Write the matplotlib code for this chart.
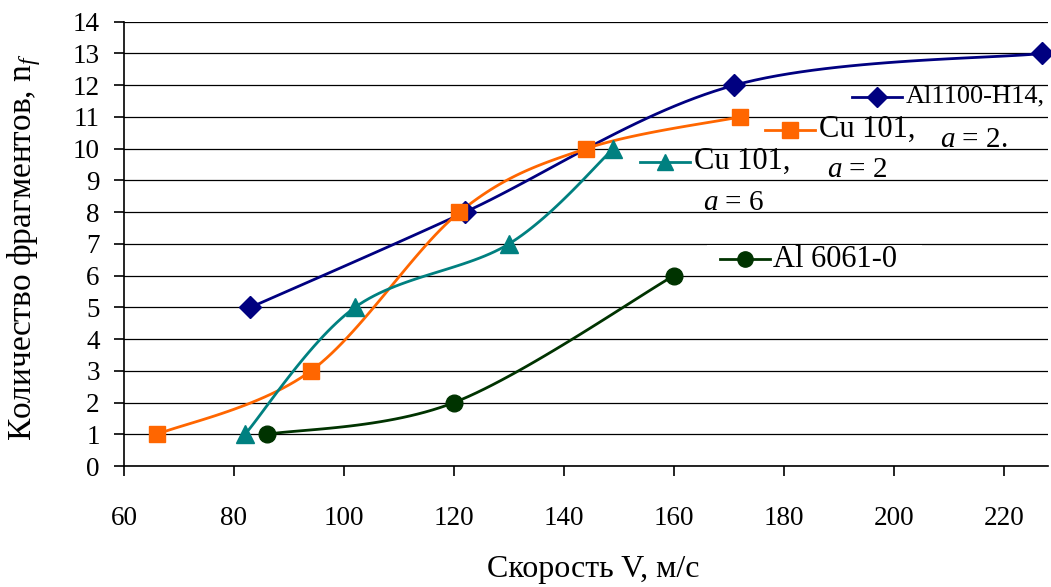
import numpy as np
import matplotlib
matplotlib.use('Agg')
import matplotlib.pyplot as plt
from matplotlib.patches import Rectangle
from matplotlib.lines import Line2D

# данные серий
v_al1100 = [83, 122, 171, 227]
n_al1100 = [5, 8, 12, 13]

v_cu_a2 = [66, 94, 121, 144, 172]
n_cu_a2 = [1, 3, 8, 10, 11]

v_cu_a6 = [82, 102, 130, 149]
n_cu_a6 = [1, 5, 7, 10]

v_al6061 = [86, 120, 160]
n_al6061 = [1, 2, 6]

x_ticks = [60, 80, 100, 120, 140, 160, 180, 200, 220]
y_ticks = list(range(0, 15))

plt.rcParams['font.family'] = ['Liberation Serif', 'DejaVu Serif']
plt.rcParams['mathtext.fontset'] = 'custom'
plt.rcParams['mathtext.rm'] = 'Liberation Serif'
plt.rcParams['mathtext.it'] = 'Liberation Serif:italic'


def smooth(xs, ys, n=30):
    # сглаживание как в Excel (кривые Безье)
    p = np.column_stack([xs, ys]).astype(float)
    ext = np.vstack([p[0], p, p[-1]])
    out = []
    t = np.linspace(0, 1, n)[:, None]
    for i in range(1, len(ext) - 2):
        p0, p1, p2, p3 = ext[i - 1], ext[i], ext[i + 1], ext[i + 2]
        c1 = p1 + (p2 - p0) / 6
        c2 = p2 - (p3 - p1) / 6
        seg = ((1 - t) ** 3) * p1 + 3 * ((1 - t) ** 2) * t * c1 + 3 * (1 - t) * t ** 2 * c2 + t ** 3 * p2
        out.append(seg if i == 1 else seg[1:])
    s = np.vstack(out)
    return s[:, 0], s[:, 1]


fig = plt.figure(figsize=(10.51, 5.87), dpi=100)
ax = fig.add_axes([0.118, 0.206, 0.879, 0.757])

series = [
    (v_al1100, n_al1100, '#000080', 'D', 11),
    (v_cu_a2, n_cu_a2, '#FF6600', 's', 11),
    (v_cu_a6, n_cu_a6, '#008080', '^', 13),
    (v_al6061, n_al6061, '#003300', 'o', 12),
]

for xs, ys, c, m, ms in series:
    sx, sy = smooth(xs, ys)
    ax.plot(sx, sy, color=c, lw=2.0, clip_on=False, zorder=3)
    ax.plot(xs, ys, ls='none', marker=m, ms=ms, color=c, clip_on=False, zorder=4)

ax.set_xlim(60, 228)
ax.set_ylim(0, 14)
ax.set_xticks(x_ticks)
ax.set_yticks(y_ticks)
ax.yaxis.grid(True, color='black', lw=0.9)
ax.set_axisbelow(True)
for s in ['top', 'right']:
    ax.spines[s].set_visible(False)
ax.spines['left'].set_linewidth(1.2)
ax.spines['bottom'].set_linewidth(1.2)
ax.tick_params(axis='both', direction='out', length=7.5, width=1.2, labelsize=19.5)
ax.tick_params(axis='x', pad=21)
ax.tick_params(axis='y', pad=10)

ax.set_xlabel('Скорость V, м/с', fontsize=23)
ax.xaxis.set_label_coords(0.508, -0.2)
ax.set_ylabel(r'Количество фрагментов, n$_{f}$', fontsize=24)
ax.yaxis.set_label_coords(-0.088, 0.493)

# подписи серий внутри поля графика
ax.add_patch(Rectangle((0.631, 0.432), 0.233, 0.066, transform=ax.transAxes,
                       facecolor='white', edgecolor='none', zorder=2))

labels = [
    ((0.788, 0.842), 0.831, '#000080', 'D', 10, 'Al1100-H14,', 19, (0.883, 0.734), r'$a$ = 2.'),
    ((0.694, 0.748), 0.757, '#FF6600', 's', 11, 'Cu 101,', 22, (0.761, 0.667), r'$a$ = 2'),
    ((0.558, 0.613), 0.685, '#008080', '^', 12, 'Cu 101,', 22, (0.627, 0.592), r'$a$ = 6'),
    ((0.645, 0.699), 0.466, '#003300', 'o', 11, 'Al 6061-0', 22, None, None),
]
for (x0, x1), y, c, m, ms, txt, fs, pos2, txt2 in labels:
    ax.add_line(Line2D([x0, x1], [y, y], transform=ax.transAxes, color=c, lw=2.0,
                       zorder=5, clip_on=False))
    ax.add_line(Line2D([(x0 + x1) / 2], [y], transform=ax.transAxes, color=c, marker=m,
                       ms=ms, ls='none', zorder=5, clip_on=False))
    ax.text(x1 + 0.004, y, txt, transform=ax.transAxes, fontsize=fs, va='center',
            ha='left', zorder=6)
    if pos2 is not None:
        ax.text(pos2[0], pos2[1], txt2, transform=ax.transAxes, fontsize=21,
                va='center', ha='left', zorder=6)

fig.savefig('out.png', dpi=100)
